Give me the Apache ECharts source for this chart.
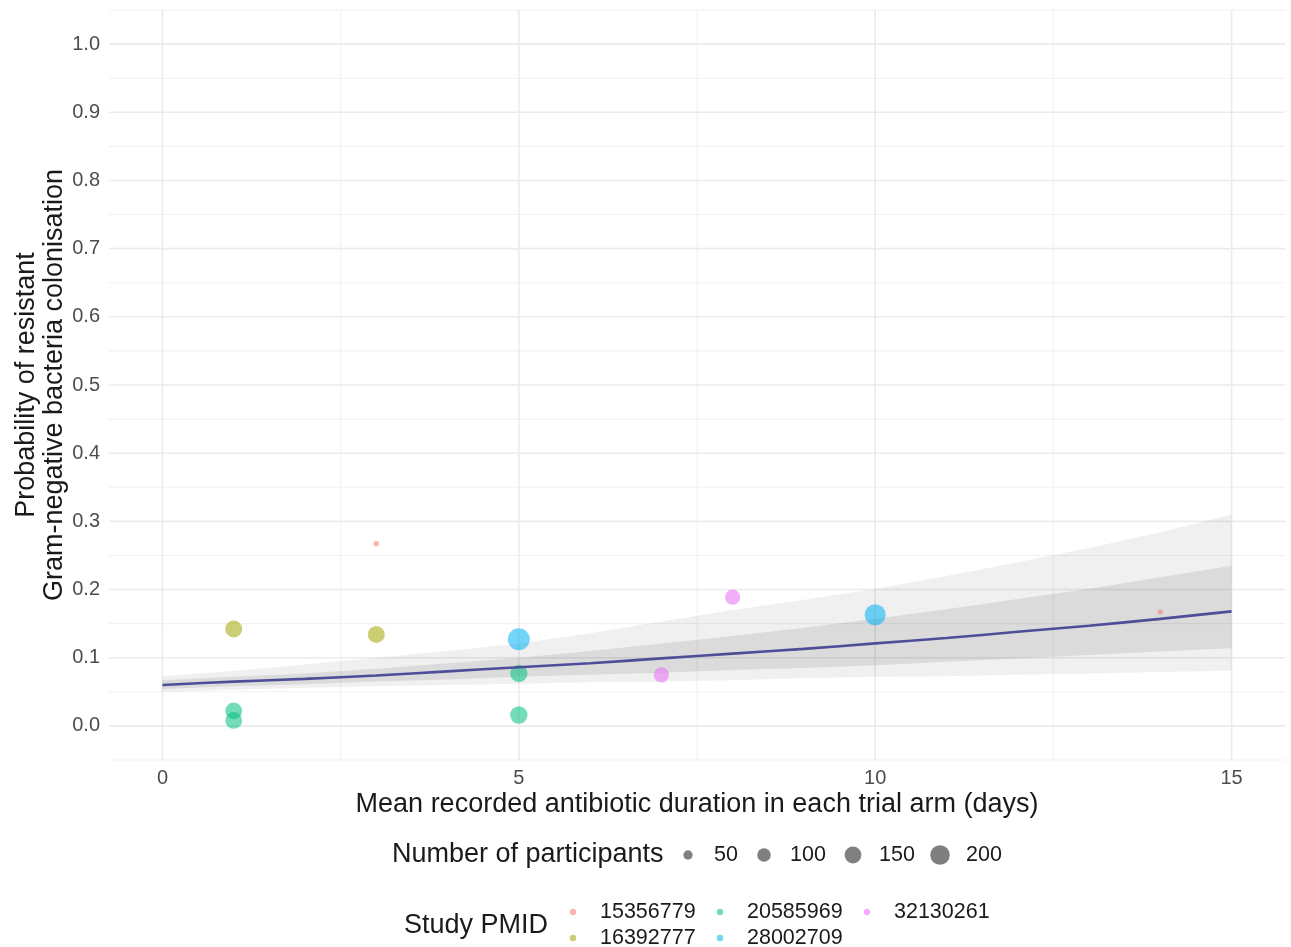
<!DOCTYPE html>
<html>
<head>
<meta charset="utf-8">
<script src="https://cdn.jsdelivr.net/npm/echarts@6/dist/echarts.min.js"></script>
<style>
  html, body { margin: 0; padding: 0; background: #ffffff; }
  #chart { width: 1291px; height: 947px; }
</style>
</head>
<body>
<div id="chart"></div>
<script>
// Axis ticks and grid lines
const xTicks = [0, 5, 10, 15];
const xMinorGrid = [2.5, 7.5, 12.5];
const yTicks = [0, 0.1, 0.2, 0.3, 0.4, 0.5, 0.6, 0.7, 0.8, 0.9, 1.0];
const yMinorGrid = [-0.05, 0.05, 0.15, 0.25, 0.35, 0.45, 0.55, 0.65, 0.75, 0.85, 0.95, 1.05];

// Fitted curve with its two uncertainty bands
const fitDays  = [0, 1, 2, 3, 4, 5, 6, 7, 8, 9, 10, 11, 12, 13, 14, 15];
const fitProb  = [0.060, 0.065, 0.069, 0.074, 0.080, 0.086, 0.092, 0.099, 0.106, 0.113, 0.121, 0.129, 0.138, 0.147, 0.157, 0.168];
const ciLow    = [0.054, 0.058, 0.061, 0.065, 0.068, 0.072, 0.075, 0.078, 0.082, 0.085, 0.089, 0.094, 0.099, 0.104, 0.109, 0.114];
const ciHigh   = [0.067, 0.072, 0.077, 0.084, 0.092, 0.100, 0.110, 0.121, 0.132, 0.144, 0.157, 0.171, 0.186, 0.201, 0.218, 0.235];
const piLow    = [0.050, 0.053, 0.056, 0.058, 0.060, 0.062, 0.064, 0.065, 0.067, 0.070, 0.072, 0.073, 0.075, 0.077, 0.079, 0.081];
const piHigh   = [0.073, 0.081, 0.090, 0.100, 0.110, 0.121, 0.136, 0.153, 0.170, 0.185, 0.201, 0.220, 0.240, 0.261, 0.284, 0.310];

// Trial arms, grouped by study
const studyIds    = ['15356779', '16392777', '20585969', '28002709', '32130261'];
const studyColors = ['#F8766D', '#A3A500', '#00BF7D', '#00B0F6', '#E76BF3'];
const armDays = [[3, 14], [1, 3], [1, 1, 5, 5], [5, 10], [7, 8]];
const armProb = [[0.267, 0.167], [0.142, 0.134], [0.022, 0.008, 0.077, 0.016], [0.127, 0.163], [0.075, 0.189]];
const armN    = [[20, 18], [155, 155], [150, 150, 160, 160], [250, 230], [125, 125]];

// Size legend breaks
const sizeBreaks = [50, 100, 150, 200];

const FONT = '"Liberation Sans", Arial, Helvetica, sans-serif';
const X_MIN = -0.75, X_MAX = 15.75, Y_MIN = -0.05, Y_MAX = 1.05;
const pointSize = n => 1.45 * Math.sqrt(n) - 1;
const pairs = (xs, ys) => xs.map((x, i) => [x, ys[i]]);

// Panel grid lines, major and minor
const gridSeries = {
  name: 'grid', type: 'custom', silent: true, animation: false, data: [[0, 0]],
  renderItem: (params, api) => {
    const children = [];
    const vline = (v, stroke, w) => {
      const a = api.coord([v, Y_MIN]), b = api.coord([v, Y_MAX]);
      children.push({ type: 'line', shape: { x1: a[0], y1: a[1], x2: b[0], y2: b[1] }, style: { stroke, lineWidth: w } });
    };
    const hline = (v, stroke, w) => {
      const a = api.coord([X_MIN, v]), b = api.coord([X_MAX, v]);
      children.push({ type: 'line', shape: { x1: a[0], y1: a[1], x2: b[0], y2: b[1] }, style: { stroke, lineWidth: w } });
    };
    xMinorGrid.forEach(v => vline(v, '#f1f1f1', 1.1));
    yMinorGrid.forEach(v => hline(v, '#f1f1f1', 1.1));
    xTicks.forEach(v => vline(v, '#ebebeb', 1.6));
    yTicks.forEach(v => hline(v, '#ebebeb', 1.6));
    return { type: 'group', children };
  }
};

// Filled band between a lower and an upper curve
const bandSeries = (name, lo, hi, fill) => ({
  name, type: 'custom', silent: true, animation: false, data: [[0, 0]],
  renderItem: (params, api) => {
    const upper = fitDays.map((d, i) => api.coord([d, hi[i]]));
    const lower = fitDays.map((d, i) => api.coord([d, lo[i]])).reverse();
    return { type: 'polygon', shape: { points: upper.concat(lower) }, style: { fill } };
  }
});

const series = [
  gridSeries,
  bandSeries('outer band', piLow, piHigh, 'rgba(0,0,0,0.06)'),
  bandSeries('inner band', ciLow, ciHigh, 'rgba(0,0,0,0.085)'),
  {
    name: 'fit', type: 'line', data: pairs(fitDays, fitProb), symbol: 'none', smooth: 0.3,
    silent: true, animation: false,
    lineStyle: { color: '#4e4e98', width: 2.6 }
  }
];

studyIds.forEach((id, s) => {
  series.push({
    name: id, type: 'scatter', animation: false,
    data: armDays[s].map((d, i) => [d, armProb[s][i], armN[s][i]]),
    symbolSize: v => pointSize(v[2]),
    itemStyle: { color: studyColors[s], opacity: 0.55 }
  });
});

// Legends drawn as graphic elements
const graphics = [];
graphics.push({
  type: 'text', x: 392, y: 855,
  style: { text: 'Number of participants', font: '27px ' + FONT, fill: '#1a1a1a', align: 'left', verticalAlign: 'middle' }
});
const sizeDotX = [688, 764, 853, 940];
sizeBreaks.forEach((n, i) => {
  graphics.push({ type: 'circle', shape: { cx: sizeDotX[i], cy: 855, r: pointSize(n) / 2 }, style: { fill: 'rgba(0,0,0,0.5)' } });
  graphics.push({
    type: 'text', x: sizeDotX[i] + 26, y: 855,
    style: { text: String(n), font: '21.5px ' + FONT, fill: '#1a1a1a', align: 'left', verticalAlign: 'middle' }
  });
});

graphics.push({
  type: 'text', x: 404, y: 926,
  style: { text: 'Study PMID', font: '27px ' + FONT, fill: '#1a1a1a', align: 'left', verticalAlign: 'middle' }
});
const keyCols = [573, 720, 867];
const keyRows = [912, 938];
studyIds.forEach((id, s) => {
  const col = Math.floor(s / 2), row = s % 2;
  graphics.push({ type: 'circle', shape: { cx: keyCols[col], cy: keyRows[row], r: 3.2 }, style: { fill: studyColors[s], opacity: 0.55 } });
  graphics.push({
    type: 'text', x: keyCols[col] + 27, y: keyRows[row],
    style: { text: id, font: '21.5px ' + FONT, fill: '#1a1a1a', align: 'left', verticalAlign: 'middle' }
  });
});

const chart = echarts.init(document.getElementById('chart'), null, { renderer: 'canvas' });
chart.setOption({
  animation: false,
  backgroundColor: '#ffffff',
  grid: { left: 109, right: 6, top: 10, bottom: 187, containLabel: false },
  xAxis: {
    type: 'value', min: X_MIN, max: X_MAX,
    name: 'Mean recorded antibiotic duration in each trial arm (days)',
    nameLocation: 'middle', nameGap: 31, nameMoveOverlap: false,
    nameTextStyle: { fontSize: 27, fontFamily: FONT, color: '#1a1a1a' },
    axisLine: { show: false }, axisTick: { show: false },
    splitLine: { show: false },
    axisLabel: { customValues: xTicks, fontSize: 20, fontFamily: FONT, color: '#4d4d4d', margin: 8 }
  },
  yAxis: {
    type: 'value', min: Y_MIN, max: Y_MAX,
    name: 'Probability of resistant\nGram-negative bacteria colonisation',
    nameLocation: 'middle', nameGap: 40, nameRotate: 90, nameMoveOverlap: false,
    nameTextStyle: { fontSize: 27, fontFamily: FONT, color: '#1a1a1a', lineHeight: 28, align: 'center' },
    axisLine: { show: false }, axisTick: { show: false },
    splitLine: { show: false },
    axisLabel: { customValues: yTicks, formatter: v => v.toFixed(1), fontSize: 20, fontFamily: FONT, color: '#4d4d4d', margin: 9 }
  },
  series,
  graphic: graphics
});
</script>
</body>
</html>
